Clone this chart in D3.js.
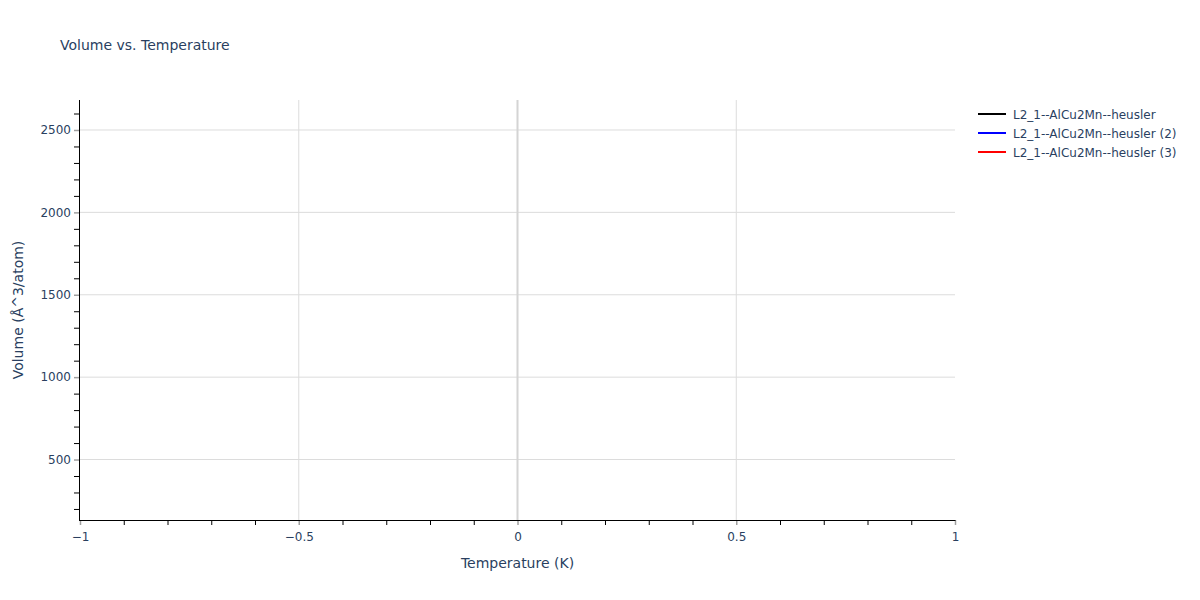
<!DOCTYPE html>
<html>
<head>
<meta charset="utf-8">
<script src="https://cdn.jsdelivr.net/npm/d3@7"></script>
<style>
  html, body { margin: 0; padding: 0; background: #fff; }
  svg { display: block; font-family: "DejaVu Sans", Verdana, sans-serif; }
</style>
</head>
<body>
<div id="chart"></div>
<script>
// series names shown in the legend, and their line colours
const seriesNames = [
  "L2_1--AlCu2Mn--heusler",
  "L2_1--AlCu2Mn--heusler (2)",
  "L2_1--AlCu2Mn--heusler (3)"
];
const seriesColors = ["#000000", "#0000ff", "#ff0000"];

// no points are visible in the picture, so the traces are empty
const temperatures = [[], [], []];
const volumes = [[], [], []];

const xTicks = [-1, -0.5, 0, 0.5, 1];
const xMinorTicks = d3.range(-10, 11).map((d) => d / 10).filter((d) => !xTicks.includes(d));
const yTicks = [500, 1000, 1500, 2000, 2500];
const yMinorTicks = d3.range(200, 2700, 100).filter((d) => !yTicks.includes(d));

const width = 1200;
const height = 600;
const margin = { top: 100, right: 245, bottom: 80, left: 80 };
const textColor = "#2a3f5f";
const font = "\"DejaVu Sans\", Verdana, sans-serif";

const svg = d3.select("#chart")
  .append("svg")
  .attr("width", width)
  .attr("height", height);

const x = d3.scaleLinear().domain([-1, 1]).range([margin.left, width - margin.right]);
const y = d3.scaleLinear().domain([133, 2682]).range([height - margin.bottom, margin.top]);

// grid
const grid = svg.append("g");
grid.selectAll("line.gy")
  .data(yTicks)
  .join("line")
  .attr("x1", x(-1)).attr("x2", x(1))
  .attr("y1", (d) => y(d)).attr("y2", (d) => y(d))
  .attr("stroke", "#dcdcdc").attr("stroke-width", 1);
grid.selectAll("line.gx")
  .data(xTicks.filter((d) => d !== -1 && d !== 1 && d !== 0))
  .join("line")
  .attr("x1", (d) => x(d)).attr("x2", (d) => x(d))
  .attr("y1", y.range()[0]).attr("y2", y.range()[1])
  .attr("stroke", "#dcdcdc").attr("stroke-width", 1);
// zero line
grid.append("line")
  .attr("x1", x(0)).attr("x2", x(0))
  .attr("y1", y.range()[0]).attr("y2", y.range()[1])
  .attr("stroke", "#d4d4d4").attr("stroke-width", 2);

// traces
const line = d3.line().x((d) => x(d[0])).y((d) => y(d[1]));
seriesNames.forEach((name, i) => {
  const pts = d3.zip(temperatures[i], volumes[i]);
  svg.append("path")
    .attr("d", pts.length ? line(pts) : null)
    .attr("fill", "none")
    .attr("stroke", seriesColors[i])
    .attr("stroke-width", 2);
});

// x axis
const xAxisG = svg.append("g").attr("transform", `translate(0,${height - margin.bottom})`);
xAxisG.call(d3.axisBottom(x).tickValues(xMinorTicks).tickSize(5).tickFormat(""))
  .call((g) => g.select(".domain").remove())
  .call((g) => g.selectAll(".tick line").attr("stroke", "#000"));
const xMajor = svg.append("g").attr("transform", `translate(0,${height - margin.bottom})`);
xMajor.call(d3.axisBottom(x).tickValues(xTicks).tickSize(5).tickPadding(7)
    .tickFormat((d) => (d === 0 ? "0" : d3.format("")(d).replace("-", "\u2212"))))
  .call((g) => g.select(".domain").remove())
  .call((g) => g.selectAll(".tick line").attr("stroke", "#a0a0a0").attr("stroke-width", 1.5))
  .call((g) => g.selectAll(".tick text").attr("fill", textColor).attr("font-size", 12)
    .attr("font-family", font));
svg.append("line")
  .attr("x1", x(-1) - 1).attr("x2", x(1) + 0.5)
  .attr("y1", height - margin.bottom + 0.5).attr("y2", height - margin.bottom + 0.5)
  .attr("stroke", "#000").attr("stroke-width", 1);

// y axis
const yAxisG = svg.append("g").attr("transform", `translate(${margin.left - 1},0)`);
yAxisG.call(d3.axisLeft(y).tickValues(yMinorTicks).tickSize(5).tickFormat(""))
  .call((g) => g.select(".domain").remove())
  .call((g) => g.selectAll(".tick line").attr("stroke", "#000"));
const yMajor = svg.append("g").attr("transform", `translate(${margin.left - 1},0)`);
yMajor.call(d3.axisLeft(y).tickValues(yTicks).tickSize(5).tickPadding(3).tickFormat(d3.format("d")))
  .call((g) => g.select(".domain").remove())
  .call((g) => g.selectAll(".tick line").attr("stroke", "#a0a0a0").attr("stroke-width", 1.5))
  .call((g) => g.selectAll(".tick text").attr("fill", textColor).attr("font-size", 12)
    .attr("font-family", font));
svg.append("line")
  .attr("x1", margin.left - 0.5).attr("x2", margin.left - 0.5)
  .attr("y1", margin.top).attr("y2", height - margin.bottom + 1)
  .attr("stroke", "#000").attr("stroke-width", 1);

// titles
svg.append("text")
  .attr("x", 60).attr("y", 50)
  .attr("fill", textColor).attr("font-size", 14)
  .text("Volume vs. Temperature");
svg.append("text")
  .attr("x", x(0)).attr("y", 568)
  .attr("text-anchor", "middle")
  .attr("fill", textColor).attr("font-size", 14)
  .text("Temperature (K)");
svg.append("text")
  .attr("transform", `translate(23,${(margin.top + height - margin.bottom) / 2}) rotate(-90)`)
  .attr("text-anchor", "middle")
  .attr("fill", textColor).attr("font-size", 14)
  .text("Volume (Å^3/atom)");

// legend
const legend = svg.append("g").attr("transform", "translate(978,114)");
const items = legend.selectAll("g")
  .data(seriesNames)
  .join("g")
  .attr("transform", (d, i) => `translate(0,${i * 19})`);
items.append("line")
  .attr("x1", 0).attr("x2", 28)
  .attr("stroke", (d, i) => seriesColors[i])
  .attr("stroke-width", 2);
items.append("text")
  .attr("x", 35).attr("y", 4.5)
  .attr("fill", textColor).attr("font-size", 12)
  .text((d) => d);
</script>
</body>
</html>
